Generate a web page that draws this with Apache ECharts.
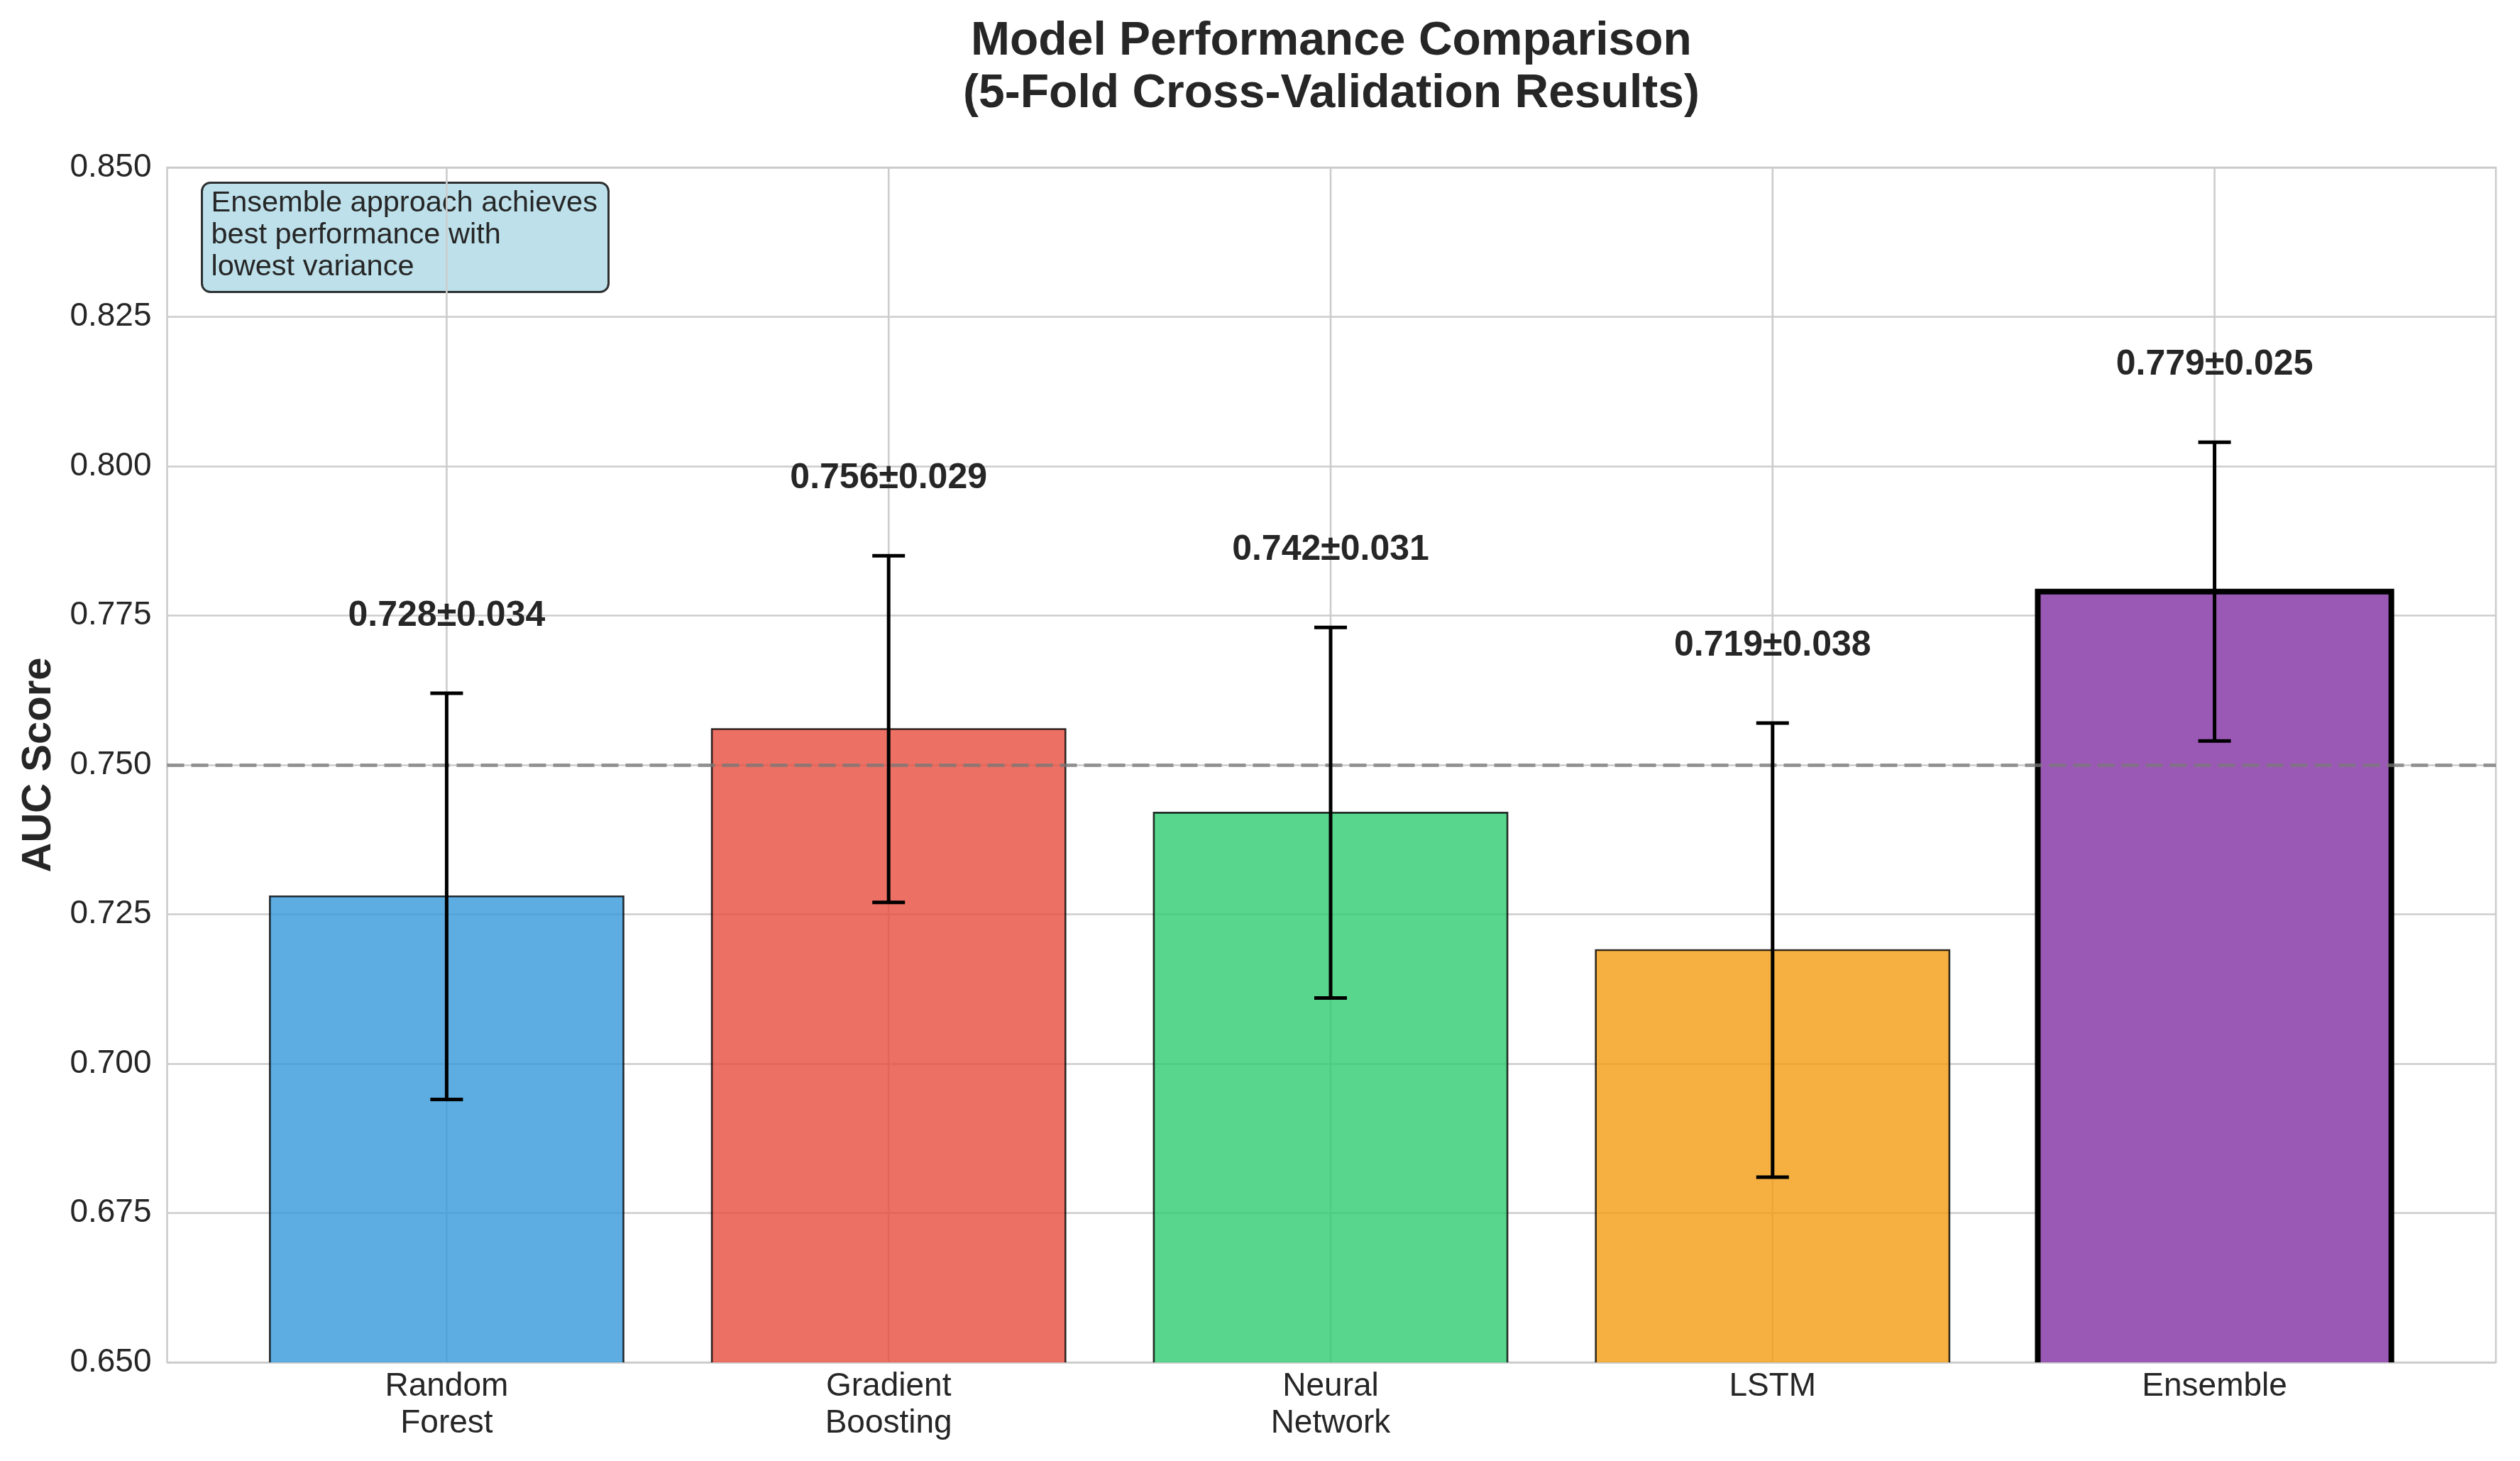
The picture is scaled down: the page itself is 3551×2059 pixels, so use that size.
<!DOCTYPE html>
<html>
<head>
<meta charset="utf-8">
<script src="https://cdn.jsdelivr.net/npm/echarts@6/dist/echarts.min.js"></script>
<style>
html,body{margin:0;padding:0;background:#fff;}
#chart{width:3551px;height:2059px;}
</style>
</head>
<body>
<div id="chart"></div>
<script>
const categories = ['Random\nForest', 'Gradient\nBoosting', 'Neural\nNetwork', 'LSTM', 'Ensemble'];
const meanAUC = [0.728, 0.756, 0.742, 0.719, 0.779];
const stdAUC = [0.034, 0.029, 0.031, 0.038, 0.025];
const barColors = ['#3498db', '#e74c3c', '#2ecc71', '#f39c12', '#9b59b6'];
const yTicks = [0.650, 0.675, 0.700, 0.725, 0.750, 0.775, 0.800, 0.825, 0.850];
const baseline = 0.75;
const annotationText = 'Ensemble approach achieves\nbest performance with\nlowest variance';
const titleText = 'Model Performance Comparison\n(5-Fold Cross-Validation Results)';

const FONT = '"Liberation Sans", Arial, Helvetica, sans-serif';
const TXT = '#262626';

const chart = echarts.init(document.getElementById('chart'), null, {renderer: 'canvas'});

const yMin = yTicks[0], yMax = yTicks[yTicks.length - 1];
const bestIdx = meanAUC.indexOf(Math.max(...meanAUC));

const option = {
  backgroundColor: '#ffffff',
  animation: false,
  title: {
    text: titleText,
    left: 1876,
    top: 22,
    padding: 0,
    textAlign: 'center',
    textStyle: {fontFamily: FONT, fontSize: 66, fontWeight: 'bold', color: TXT, lineHeight: 74}
  },
  grid: [
    {left: 235.5, right: 34, top: 236, bottom: 139, show: true, borderColor: '#cccccc', borderWidth: 2.6, backgroundColor: 'transparent'},
    {left: 318, right: 119, top: 236, bottom: 139}
  ],
  xAxis: [
    {type: 'value', gridIndex: 0, min: 0, max: 1, show: false},
    {type: 'category', gridIndex: 1, data: categories, boundaryGap: true,
     axisLine: {show: false}, axisTick: {show: false}, splitLine: {show: false},
     axisLabel: {fontFamily: FONT, fontSize: 46, lineHeight: 52, color: TXT, margin: 8, interval: 0}}
  ],
  yAxis: [
    {type: 'value', gridIndex: 0, min: yMin, max: yMax, interval: 0.025,
     name: 'AUC Score', nameLocation: 'middle', nameGap: 152,
     nameTextStyle: {fontFamily: FONT, fontSize: 58, fontWeight: 'bold', color: TXT},
     axisLine: {show: false}, axisTick: {show: false},
     axisLabel: {fontFamily: FONT, fontSize: 46, color: TXT, margin: 22, formatter: v => v.toFixed(3)},
     splitLine: {show: true, lineStyle: {color: '#cccccc', width: 2.6}}},
    {type: 'value', gridIndex: 1, min: yMin, max: yMax, interval: 0.025, show: false, splitLine: {show: false}}
  ],
  series: [
    {
      name: 'vgrid',
      type: 'custom',
      xAxisIndex: 1, yAxisIndex: 1,
      z: 1,
      silent: true,
      data: categories.map((c, i) => [i]),
      renderItem: function (params, api) {
        const i = api.value(0);
        const p0 = api.coord([i, yMin]);
        const p1 = api.coord([i, yMax]);
        return {type: 'line', shape: {x1: p0[0], y1: p0[1], x2: p1[0], y2: p1[1]},
                style: {stroke: '#cccccc', lineWidth: 2.6}};
      }
    },
    {
      name: 'AUC',
      type: 'custom',
      xAxisIndex: 1, yAxisIndex: 1,
      z: 2,
      clip: true,
      data: meanAUC.map((m, i) => [i, m]),
      renderItem: function (params, api) {
        const i = api.value(0);
        const top = api.coord([i, api.value(1)]);
        const bot = api.coord([i, yMin]);
        const w = api.size([1, 0])[0] * 0.8;
        const best = i === bestIdx;
        return {type: 'rect',
                shape: {x: top[0] - w / 2, y: top[1], width: w, height: bot[1] - top[1] + 30},
                style: {fill: barColors[i], stroke: '#000000', lineWidth: best ? 8 : 2.6,
                        opacity: best ? 1 : 0.8}};
      }
    },
    {
      name: 'baseline',
      type: 'line',
      xAxisIndex: 0, yAxisIndex: 0,
      z: 4,
      data: [],
      markLine: {
        silent: true, symbol: 'none', label: {show: false},
        lineStyle: {color: '#7a7a7a', opacity: 0.75, width: 5, type: [24, 10]},
        data: [{yAxis: baseline}]
      }
    },
    {
      name: 'errors',
      type: 'custom',
      xAxisIndex: 1, yAxisIndex: 1,
      z: 5,
      silent: true,
      data: meanAUC.map((m, i) => [i, m - stdAUC[i], m + stdAUC[i]]),
      renderItem: function (params, api) {
        const i = api.value(0);
        const lo = api.coord([i, api.value(1)]);
        const hi = api.coord([i, api.value(2)]);
        const cap = 23;
        const st = {stroke: '#000000', lineWidth: 5};
        return {type: 'group', children: [
          {type: 'line', shape: {x1: lo[0], y1: lo[1], x2: hi[0], y2: hi[1]}, style: st},
          {type: 'line', shape: {x1: lo[0] - cap, y1: lo[1], x2: lo[0] + cap, y2: lo[1]}, style: st},
          {type: 'line', shape: {x1: hi[0] - cap, y1: hi[1], x2: hi[0] + cap, y2: hi[1]}, style: st}
        ]};
      }
    },
    {
      name: 'labels',
      type: 'custom',
      xAxisIndex: 1, yAxisIndex: 1,
      z: 6,
      silent: true,
      data: meanAUC.map((m, i) => [i, m + stdAUC[i] + 0.01, m, stdAUC[i]]),
      renderItem: function (params, api) {
        const i = api.value(0);
        const p = api.coord([i, api.value(1)]);
        return {type: 'text', x: p[0], y: p[1],
                style: {text: api.value(2).toFixed(3) + '±' + api.value(3).toFixed(3),
                        fontFamily: FONT, fontSize: 50, fontWeight: 'bold', fill: TXT,
                        align: 'center', verticalAlign: 'bottom'}};
      }
    }
  ],
  graphic: [
    {
      type: 'group', left: 283, top: 256, z: 10,
      children: [
        {type: 'rect', shape: {x: 0, y: 0, width: 573, height: 154, r: 12},
         style: {fill: 'rgba(173,216,230,0.8)', stroke: 'rgba(0,0,0,0.8)', lineWidth: 3}},
        {type: 'text', x: 13, y: 7,
         style: {text: annotationText, fontFamily: FONT, fontSize: 41.5, lineHeight: 45, fill: TXT}}
      ]
    }
  ]
};

chart.setOption(option);
</script>
</body>
</html>
